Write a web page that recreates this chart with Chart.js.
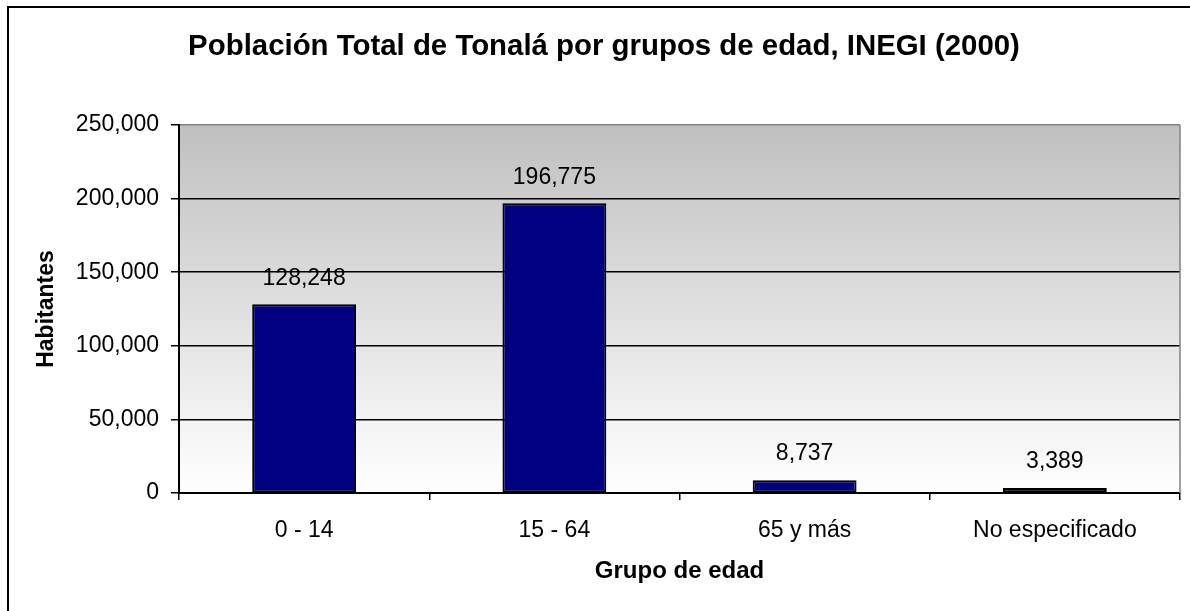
<!DOCTYPE html>
<html><head><meta charset="utf-8">
<script src="https://cdn.jsdelivr.net/npm/chart.js@4.4.0/dist/chart.umd.min.js"></script>
<style>html,body{margin:0;padding:0;background:#fff;overflow:hidden}#wrap{width:1190px;height:611px}</style>
</head><body><div id="wrap"><canvas id="c" width="1190" height="611"></canvas></div>
<script>
const categories = ['0 - 14', '15 - 64', '65 y más', 'No especificado'];
const habitantes = [128248, 196775, 8737, 3389];
const yTicks = [0, 50000, 100000, 150000, 200000, 250000];
const chartTitle = 'Población Total de Tonalá por grupos de edad, INEGI (2000)';
const xTitle = 'Grupo de edad';
const yTitle = 'Habitantes';

const FONT = "'Liberation Sans', Arial, sans-serif";
const fmt = v => v.toLocaleString('en-US');

const bgPlugin = {
  id: 'bg',
  beforeDraw(chart) {
    const {ctx, chartArea: a} = chart;
    const g = ctx.createLinearGradient(0, a.top, 0, a.bottom);
    g.addColorStop(0, '#c0c0c0');
    g.addColorStop(1, '#ffffff');
    ctx.save();
    ctx.fillStyle = g;
    ctx.fillRect(a.left, a.top, a.right - a.left, a.bottom - a.top);
    ctx.restore();
  },
  afterDraw(chart) {
    const {ctx, chartArea: a} = chart;
    ctx.save();
    ctx.strokeStyle = '#808080';
    ctx.lineWidth = 1.5;
    ctx.beginPath();
    ctx.moveTo(a.right, a.top);
    ctx.lineTo(a.right, a.bottom);
    ctx.stroke();
    ctx.strokeStyle = '#000';
    ctx.lineWidth = 2;
    ctx.beginPath();
    ctx.moveTo(8, 700);
    ctx.lineTo(8, 7);
    ctx.lineTo(1300, 7);
    ctx.stroke();
    ctx.restore();
  }
};

const valuePlugin = {
  id: 'vals',
  afterDatasetsDraw(chart) {
    const ctx = chart.ctx;
    const meta = chart.getDatasetMeta(0);
    ctx.save();
    ctx.font = '23px ' + FONT;
    ctx.fillStyle = '#000';
    ctx.textAlign = 'center';
    ctx.textBaseline = 'middle';
    meta.data.forEach((bar, i) => {
      ctx.fillText(fmt(habitantes[i]), bar.x, bar.y - 26);
    });
    ctx.restore();
  }
};

new Chart(document.getElementById('c'), {
  type: 'bar',
  data: {
    labels: categories,
    datasets: [{
      data: habitantes,
      backgroundColor: '#000080',
      borderColor: '#000000',
      borderWidth: 2,
      borderSkipped: false,
      barPercentage: 0.415,
      categoryPercentage: 1
    }]
  },
  options: {
    responsive: false,
    devicePixelRatio: 1,
    animation: false,
    layout: {padding: {left: 28, right: 10, top: 0, bottom: 0}},
    plugins: {
      legend: {display: false},
      tooltip: {enabled: false},
      title: {
        display: true,
        text: chartTitle,
        color: '#000',
        font: {family: FONT, size: 29.4, weight: 'bold'},
        padding: {top: 29.5, bottom: 60.2}
      }
    },
    scales: {
      x: {
        grid: {drawOnChartArea: false, drawTicks: true, tickLength: 7, tickColor: '#000', lineWidth: 1.5, offset: true},
        border: {color: '#000', width: 2},
        ticks: {color: '#000', font: {family: FONT, size: 23}, padding: 17, maxRotation: 0, autoSkip: false},
        title: {display: true, text: xTitle, color: '#000', font: {family: FONT, size: 24, weight: 'bold'}, padding: {top: 0, bottom: 25}},
        afterFit(scale) { scale.height = 118; }
      },
      y: {
        min: 0,
        max: 250000,
        grid: {
          color: c => (c.tick && c.tick.value === 250000) ? '#808080' : '#000',
          lineWidth: 1.5,
          tickLength: 8,
          tickColor: '#000'
        },
        border: {color: '#000', width: 2},
        ticks: {color: '#000', font: {family: FONT, size: 23}, padding: 12, callback: v => fmt(v)},
        afterBuildTicks(scale) { scale.ticks = yTicks.map(v => ({value: v})); },
        title: {display: true, text: yTitle, color: '#000', font: {family: FONT, size: 23, weight: 'bold'}, padding: {top: 5, bottom: 0}},
        afterFit(scale) { scale.width = 151; }
      }
    }
  },
  plugins: [bgPlugin, valuePlugin]
});
</script>
</body></html>
